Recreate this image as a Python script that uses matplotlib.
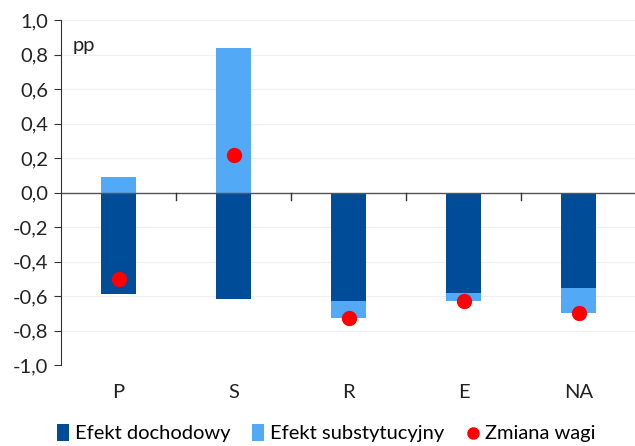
import matplotlib.pyplot as plt
import numpy as np

plt.rcParams['font.family'] = ['Lato', 'DejaVu Sans']

categories = ['P', 'S', 'R', 'E', 'NA']
dochodowy = [-0.59, -0.62, -0.63, -0.58, -0.555]
substytucyjny = [0.09, 0.84, -0.095, -0.05, -0.145]
zmiana_wagi = [-0.50, 0.22, -0.725, -0.63, -0.70]
yticks = np.arange(-1.0, 1.01, 0.2)

dark = '#004C98'
light = '#52AAF6'
red = '#FF0000'
fs = 14.5

fig = plt.figure(figsize=(6.35, 4.46), dpi=100)
ax = fig.add_axes([61 / 635, 1 - 365 / 446, 575 / 635, 345 / 446])

x = np.arange(len(categories))
sub = np.array(substytucyjny)
doch = np.array(dochodowy)
# positive parts stack from zero, negative ones go under the dark bar
sub_bottom = np.where(sub >= 0, 0, doch)

b1 = ax.bar(x, doch, width=0.31, color=dark, label='Efekt dochodowy', zorder=2)
b2 = ax.bar(x, sub, width=0.31, bottom=sub_bottom, color=light,
            label='Efekt substytucyjny', zorder=2)
sc = ax.scatter(x, zmiana_wagi, s=100, color=red, label='Zmiana wagi', zorder=3)

ax.set_xlim(-0.5, len(categories) - 0.5)
ax.set_ylim(-1.0, 1.0)
ax.set_yticks(yticks)
ax.set_yticklabels([('%.1f' % v).replace('.', ',').replace('-0,0', '0,0') for v in yticks])
ax.grid(axis='y', color='#EFEFEF', linewidth=0.8, zorder=0)
ax.axhline(0, color='#555555', linewidth=1.0, zorder=2.5)

# category boundary ticks on the zero line
for b in np.arange(0.5, len(categories) - 0.5, 1):
    ax.plot([b, b], [0, -0.045], color='#333333', linewidth=1.0, zorder=2.5, clip_on=False)

ax.set_xticks(x)
ax.set_xticklabels(categories)
ax.tick_params(axis='x', length=0, pad=14, labelsize=fs, colors='#222222')
ax.tick_params(axis='y', length=5, direction='out', labelsize=fs, colors='#222222',
               color='#333333', pad=4)

for s in ['top', 'right', 'bottom']:
    ax.spines[s].set_visible(False)
ax.spines['left'].set_color('#333333')

ax.text(0.02, 0.925, 'pp', transform=ax.transAxes, fontsize=fs, color='#222222',
        va='center')

leg = fig.legend([b1, b2, sc], ['Efekt dochodowy', 'Efekt substytucyjny', 'Zmiana wagi'],
                 loc='center', bbox_to_anchor=(326 / 635, 1 - 433 / 446),
                 ncol=3, frameon=False, fontsize=fs, handlelength=0.6, handleheight=0.9,
                 handletextpad=0.3, columnspacing=1.1, borderaxespad=0, markerscale=0.8)

fig.savefig('out.png', dpi=100)
